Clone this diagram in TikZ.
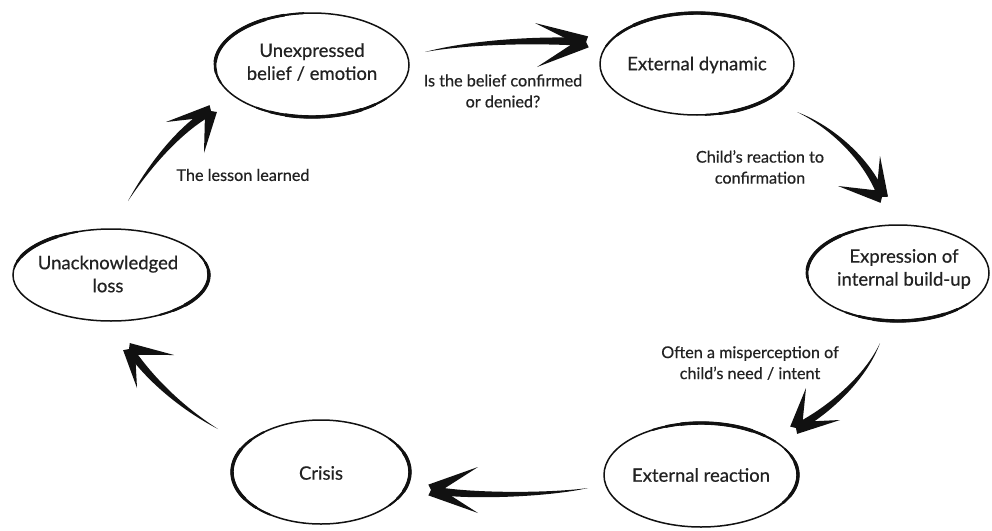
\documentclass[tikz,border=0pt]{standalone}
\usepackage{fontspec}
\setmainfont{Lato}[FakeBold=0.5]
\usetikzlibrary{calc,shapes.geometric}
\definecolor{inkc}{HTML}{111111}
\definecolor{txt}{HTML}{222222}

% brush-like thickening of part of an ellipse outline (tapered at both ends)
\newcommand\inkarc[5]{%
  \pgfmathsetmacro\arcmid{(#2+#3)/2}%
  \pgfmathsetmacro\archalf{(#3-#2)/2}%
  \foreach \f/\w in {1/2.0,0.78/2.7,0.55/3.4}{%
    \pgfmathsetmacro\inkA{\arcmid-\f*\archalf}%
    \pgfmathsetmacro\inkB{\arcmid+\f*\archalf}%
    \draw[line width=\w pt, line cap=round, draw=inkc]
      ($#1+({#4*cos(\inkA)},{#5*sin(\inkA)})$)
      arc[start angle=\inkA, end angle=\inkB, x radius=#4, y radius=#5];
  }}

% tapered brush arrow: needs coordinates #1-t, #1-c1, #1-c2, #1-h, #1-w1, #1-w2
\newcommand\inkarrow[1]{%
  \fill[inkc] (#1-t)
    .. controls ($(#1-c1)!1.8pt!90:(#1-c2)$) and ($(#1-c2)!3.4pt!90:(#1-h)$)
    .. ($(#1-h)!4pt!-90:(#1-c2)$)
    -- ($(#1-h)!4pt!90:(#1-c2)$)
    .. controls ($(#1-c2)!3.4pt!-90:(#1-h)$) and ($(#1-c1)!1.8pt!-90:(#1-c2)$)
    .. (#1-t) -- cycle;
  \fill[inkc] ($(#1-h)!6pt!90:(#1-w1)$) -- (#1-w1) -- ($(#1-h)!6pt!-90:(#1-w1)$) -- cycle;
  \fill[inkc] ($(#1-h)!6pt!90:(#1-w2)$) -- (#1-w2) -- ($(#1-h)!6pt!-90:(#1-w2)$) -- cycle;
}

\begin{document}
\begin{tikzpicture}[x=1pt,y=-1pt,
  ring/.style={draw=inkc, line width=1.5pt},
  bubble/.style={font=\fontsize{18.5}{23}\selectfont, align=center, text=txt, inner sep=0pt},
  lbl/.style={font=\fontsize{16.2}{21}\selectfont, align=center, text=txt, inner sep=0pt}]

\fill[white] (0,0) rectangle (992,530);
\useasboundingbox (0,0) rectangle (992,530);

% ---------- the six stages ----------
\draw[ring] (312,65) ellipse[x radius=97, y radius=52];
\inkarc{(312,65)}{-200}{-95}{97}{52}
\inkarc{(312,65)}{-320}{-235}{97}{52}
\node[bubble] (belief) at (312,62) {Unexpressed\\belief / emotion};

\draw[ring] (697,64) ellipse[x radius=97, y radius=51];
\inkarc{(697,64)}{-160}{-30}{97}{51}
\inkarc{(697,64)}{-350}{-275}{97}{51}
\node[bubble] (dynamic) at (697,65) {External dynamic};

\draw[ring] (898,273) ellipse[x radius=91, y radius=48];
\inkarc{(898,273)}{-195}{-110}{91}{48}
\inkarc{(898,273)}{-320}{-235}{91}{48}
\node[bubble] (buildup) at (904,269) {Expression of\\internal build-up};

\draw[ring] (111,275) ellipse[x radius=98, y radius=46];
\inkarc{(111,275)}{-25}{60}{98}{46}
\inkarc{(111,275)}{-170}{-110}{98}{46}
\node[bubble] (loss) at (108,274) {Unacknowledged\\loss};

\draw[ring] (321,472) ellipse[x radius=89, y radius=52];
\inkarc{(321,472)}{-235}{-130}{89}{52}
\inkarc{(321,472)}{-40}{40}{89}{52}
\node[bubble] (crisis) at (321,473) {Crisis};

\draw[ring] (701,475) ellipse[x radius=97, y radius=52];
\inkarc{(701,475)}{-120}{-40}{97}{52}
\inkarc{(701,475)}{-30}{40}{97}{52}
\node[bubble] (reaction) at (701,475) {External reaction};

% ---------- connector labels ----------
\node[lbl] (q) at (503,91) {Is the belief confirmed\\or denied?};
\node[lbl] (child) at (760,167) {Child's reaction to\\confirmation};
\node[lbl] (misp) at (750,363) {Often a misperception of\\child's need / intent};
\node[lbl] (lesson) at (243,175) {The lesson learned};

% ---------- brush arrows ----------
\coordinate (a1-t) at (425,52);  \coordinate (a1-c1) at (465,43);
\coordinate (a1-c2) at (530,39); \coordinate (a1-h) at (586,42);
\coordinate (a1-w1) at (535,23); \coordinate (a1-w2) at (537,67);
\inkarrow{a1}

\coordinate (a2-t) at (797,112); \coordinate (a2-c1) at (832,127);
\coordinate (a2-c2) at (868,160); \coordinate (a2-h) at (882,197);
\coordinate (a2-w1) at (880,156); \coordinate (a2-w2) at (838,186);
\inkarrow{a2}

\coordinate (a3-t) at (880,343); \coordinate (a3-c1) at (866,377);
\coordinate (a3-c2) at (830,410); \coordinate (a3-h) at (796,428);
\coordinate (a3-w1) at (806,388); \coordinate (a3-w2) at (840,420);
\inkarrow{a3}

\coordinate (a4-t) at (588,488); \coordinate (a4-c1) at (550,495);
\coordinate (a4-c2) at (470,497); \coordinate (a4-h) at (431,490);
\coordinate (a4-w1) at (478,467); \coordinate (a4-w2) at (478,513);
\inkarrow{a4}

\coordinate (a5-t) at (218,429); \coordinate (a5-c1) at (185,410);
\coordinate (a5-c2) at (152,382); \coordinate (a5-h) at (129,349);
\coordinate (a5-w1) at (174,355); \coordinate (a5-w2) at (137,388);
\inkarrow{a5}

\coordinate (a6-t) at (128,201); \coordinate (a6-c1) at (148,168);
\coordinate (a6-c2) at (178,130); \coordinate (a6-h) at (211,111);
\coordinate (a6-w1) at (166,122); \coordinate (a6-w2) at (204,153);
\inkarrow{a6}

\end{tikzpicture}
\end{document}
